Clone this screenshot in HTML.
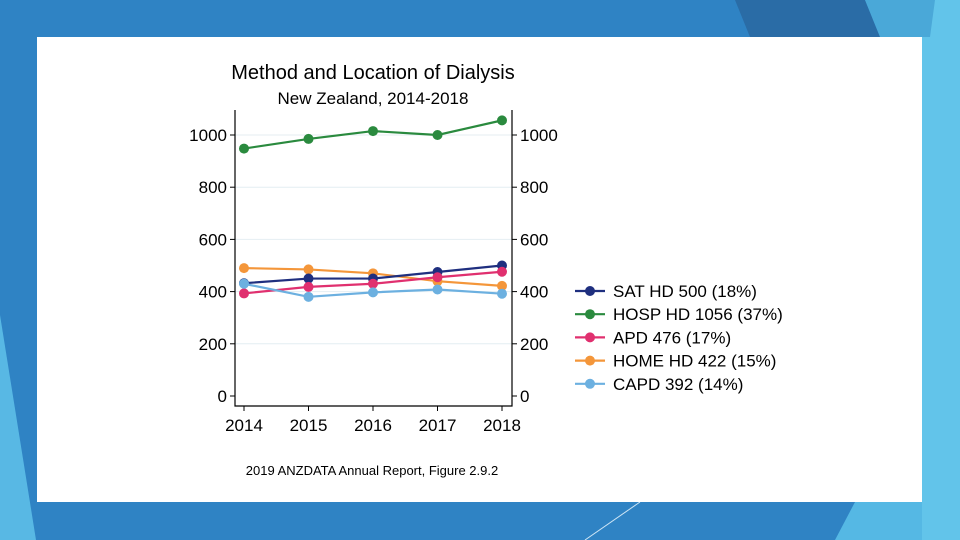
<!DOCTYPE html>
<html><head><meta charset="utf-8"><style>
html,body{margin:0;padding:0;width:960px;height:540px;overflow:hidden;background:#2f83c4;font-family:"Liberation Sans",sans-serif}
svg{display:block}
</style></head><body>
<svg width="960" height="540">
<g>
<polygon points="735,0 865,0 880,37 750,37" fill="#2a6ca6"/>
<polygon points="865,0 960,0 960,37 880,37" fill="#4aa8d8"/>
<polygon points="935,0 960,0 960,540 922,540 922,37 930,37" fill="#62c4ea"/>
<polygon points="0,315 36,540 0,540" fill="#58b8e4"/>
<polygon points="855,502 922,502 922,540 835,540" fill="#55b8e4"/>
<line x1="585" y1="540" x2="640" y2="502" stroke="#cfe6f5" stroke-width="1"/>
</g>
<rect x="37" y="37" width="885" height="465" fill="#fff"/>
<text x="373" y="79" font-size="20" text-anchor="middle">Method and Location of Dialysis</text>
<text x="373" y="104" font-size="17" text-anchor="middle">New Zealand, 2014-2018</text>
<text x="372" y="475" font-size="13" text-anchor="middle">2019 ANZDATA Annual Report, Figure 2.9.2</text>
<g id="chart"></g>
<g id="legend"></g>
</svg>
<script>
const years = [2014, 2015, 2016, 2017, 2018];
const yTicks = [0, 200, 400, 600, 800, 1000];
const seriesNames = ["SAT HD 500 (18%)", "HOSP HD 1056 (37%)", "APD 476 (17%)", "HOME HD 422 (15%)", "CAPD 392 (14%)"];
const satHD = [432, 450, 450, 475, 500];
const hospHD = [948, 985, 1015, 1000, 1056];
const apd = [393, 418, 430, 455, 476];
const homeHD = [490, 485, 470, 440, 422];
const capd = [430, 380, 397, 408, 392];

const colors = ["#1f2f7f", "#2a8a3e", "#e0306f", "#f4963a", "#6cb0e0"];
const allSeries = [satHD, hospHD, apd, homeHD, capd];
const drawOrder = [1, 3, 0, 2, 4];
const NS = "http://www.w3.org/2000/svg";
const L = 235, R = 512, T = 110, B = 406;
const xs = i => 244 + (502 - 244) * (years[i] - years[0]) / (years[years.length-1] - years[0]);
const ys = v => 396 - v * 0.261;
const g = document.getElementById("chart");
function mk(tag, attrs, parent) { const e = document.createElementNS(NS, tag); for (const k in attrs) e.setAttribute(k, attrs[k]); (parent||g).appendChild(e); return e; }

yTicks.forEach(t => {
  const y = ys(t);
  if (t > 0) { const gl = mk("line", {x1: L, x2: R, y1: y, y2: y, stroke: "#e4eef2", "stroke-width": 1});
    
     }
  mk("line", {x1: L-5, x2: L, y1: y, y2: y, stroke: "#000"});
  mk("line", {x1: R, x2: R+5, y1: y, y2: y, stroke: "#000"});
  const tl = mk("text", {x: L-8, y: y+6, "font-size": 17, "text-anchor": "end"}); tl.textContent = t;
  
  
  const tr = mk("text", {x: R+8, y: y+6, "font-size": 17}); tr.textContent = t;
  
  
});
const ax = mk("path", {d: `M${L},${T}V${B}H${R}V${T}`, fill: "none", stroke: "#000", "stroke-width": 1.2});


years.forEach((yr, i) => {
  const x = xs(i);
  mk("line", {x1: x, x2: x, y1: B, y2: B+5, stroke: "#000"});
  const tx = mk("text", {x: x, y: B+25, "font-size": 17, "text-anchor": "middle"}); tx.textContent = yr;
  
  
});
drawOrder.forEach(s => {
  const vals = allSeries[s];
  const pts = vals.map((v, i) => xs(i) + "," + ys(v)).join(" ");
  const pl = mk("polyline", {points: pts, fill: "none", stroke: colors[s], "stroke-width": 2.2});
  
  
  vals.forEach((v, i) => {
    const c = mk("circle", {cx: xs(i), cy: ys(v), r: 5, fill: colors[s]});
    
    
  });
});
const lg = document.getElementById("legend");
seriesNames.forEach((n, i) => {
  const y = 291 + i * 23.2;
  const row = mk("g", {}, lg);
  
  
  mk("line", {x1: 575, x2: 605, y1: y, y2: y, stroke: colors[i], "stroke-width": 2.2}, row);
  mk("circle", {cx: 590, cy: y, r: 5, fill: colors[i]}, row);
  const t = mk("text", {x: 613, y: y+6, "font-size": 17}, row); t.textContent = n;
});
</script>
</body></html>
